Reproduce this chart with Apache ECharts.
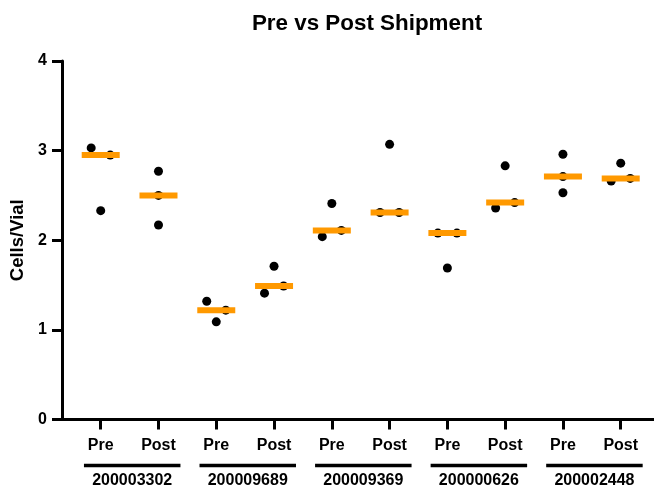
<!DOCTYPE html>
<html>
<head>
<meta charset="utf-8">
<script src="https://cdn.jsdelivr.net/npm/echarts@6/dist/echarts.min.js"></script>
<style>
  html, body { margin: 0; padding: 0; background: #fff; }
  #chart { width: 654px; height: 487px; }
</style>
</head>
<body>
<div id="chart"></div>
<script>
// categories
var groups = ['200003302', '200009689', '200009369', '200000626', '200002448'];
var conditions = ['Pre', 'Post'];

// three vials per column, column order: Pre, Post for each lot
var cellValues = [
  [3.03, 2.33, 2.95], [2.77, 2.50, 2.17],
  [1.32, 1.09, 1.22], [1.41, 1.71, 1.49],
  [2.04, 2.41, 2.11], [2.31, 3.07, 2.31],
  [2.08, 1.69, 2.08], [2.36, 2.83, 2.42],
  [2.96, 2.71, 2.53], [2.66, 2.86, 2.69]
];
// horizontal scatter slot of each point (-1 left, 0 centre, 1 right)
var slots = [
  [-1, 0, 1], [0, 0, 0],
  [-1, 0, 1], [-1, 0, 1],
  [-1, 0, 1], [-1, 0, 1],
  [-1, 0, 1], [-1, 0, 1],
  [0, 0, 0], [-1, 0, 1]
];
var yTicks = [0, 1, 2, 3, 4];

var FONT = '"Liberation Sans", Arial, Helvetica, sans-serif';
var SPREAD = 0.165;

function median(arr) {
  var s = arr.slice().sort(function (a, b) { return a - b; });
  return s[Math.floor(s.length / 2)];
}

var columnLabels = [];
for (var g = 0; g < groups.length; g++) {
  for (var c = 0; c < conditions.length; c++) columnLabels.push(conditions[c]);
}

var dots = [];
var medians = [];
for (var i = 0; i < cellValues.length; i++) {
  for (var j = 0; j < cellValues[i].length; j++) {
    dots.push([i + slots[i][j] * SPREAD, cellValues[i][j]]);
  }
  medians.push([i, median(cellValues[i])]);
}

var groupData = groups.map(function (name, k) { return [k * 2, 0, name]; });

var chart = echarts.init(document.getElementById('chart'));
chart.setOption({
  animation: false,
  backgroundColor: '#fff',
  title: {
    text: 'Pre vs Post Shipment',
    left: 362,
    top: 8,
    textAlign: 'center',
    textStyle: { fontFamily: FONT, fontWeight: 'bold', fontSize: 22.4, color: '#000' }
  },
  grid: { left: 62, right: 0, top: 61, bottom: 67.5, containLabel: false, outerBoundsMode: 'none' },
  xAxis: {
    type: 'value',
    min: -0.67,
    max: 9.576,
    splitLine: { show: false },
    axisLine: { show: true, onZero: false, lineStyle: { color: '#000', width: 3 } },
    axisTick: {
      show: true, length: 10, customValues: columnLabels.map(function (_, k) { return k; }),
      lineStyle: { color: '#000', width: 3 }
    },
    axisLabel: {
      show: true, margin: 18,
      customValues: columnLabels.map(function (_, k) { return k; }),
      formatter: function (v) { return columnLabels[Math.round(v)]; },
      fontFamily: FONT, fontWeight: 'bold', fontSize: 16, color: '#000'
    }
  },
  yAxis: {
    type: 'value',
    min: 0,
    max: 4,
    interval: 1,
    name: 'Cells/Vial',
    nameLocation: 'middle',
    nameGap: 35,
    nameTextStyle: { fontFamily: FONT, fontWeight: 'bold', fontSize: 18.5, color: '#000' },
    splitLine: { show: false },
    axisLine: { show: true, onZero: false, lineStyle: { color: '#000', width: 3 } },
    axisTick: { show: true, length: 10, lineStyle: { color: '#000', width: 3 } },
    axisLabel: {
      margin: 15,
      formatter: function (v) { return yTicks.indexOf(v) >= 0 ? String(v) : ''; },
      fontFamily: FONT, fontWeight: 'bold', fontSize: 16, color: '#000'
    }
  },
  series: [
    {
      type: 'scatter',
      data: dots,
      symbol: 'circle',
      symbolSize: 9,
      itemStyle: { color: '#000', opacity: 1 },
      z: 2
    },
    {
      type: 'scatter',
      data: medians,
      symbol: 'rect',
      symbolSize: [38, 6],
      itemStyle: { color: '#ff9900', opacity: 1 },
      z: 3
    },
    {
      type: 'custom',
      data: groupData,
      silent: true,
      z: 4,
      renderItem: function (params, api) {
        var k = api.value(0);
        var base = api.coord([k, 0]);
        var x1 = api.coord([k - 0.29, 0])[0];
        var x2 = api.coord([k + 1.38, 0])[0];
        var yLine = base[1] + 46;
        return {
          type: 'group',
          children: [
            {
              type: 'line',
              shape: { x1: x1, y1: yLine, x2: x2, y2: yLine },
              style: { stroke: '#000', lineWidth: 3.5 }
            },
            {
              type: 'text',
              style: {
                text: groups[k / 2],
                x: (x1 + x2) / 2,
                y: yLine + 15,
                align: 'center',
                verticalAlign: 'middle',
                fill: '#000',
                font: 'bold 16px ' + FONT
              }
            }
          ]
        };
      }
    }
  ]
});
</script>
</body>
</html>
